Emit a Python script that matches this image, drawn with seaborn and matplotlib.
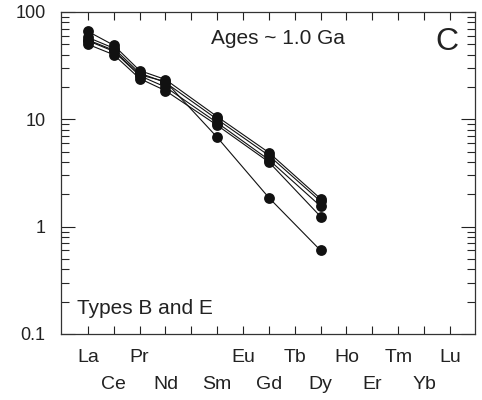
import numpy as np
import pandas as pd
import matplotlib
matplotlib.use("Agg")
import matplotlib.pyplot as plt
import seaborn as sns
from matplotlib.ticker import FixedLocator, LogLocator, NullFormatter, FixedFormatter

# REE order (Pm slot kept empty)
elements = ["La", "Ce", "Pr", "Nd", "", "Sm", "Eu", "Gd", "Tb", "Dy", "Ho", "Er", "Tm", "Yb", "Lu"]
measured = ["La", "Ce", "Pr", "Nd", "Sm", "Gd", "Dy"]

s1 = [66, 49, 28.5, 23.5, 10.6, 4.9, 1.82]
s2 = [58, 46, 27, 22.0, 10.0, 4.6, 1.72]
s3 = [54, 43, 25.5, 20.0, 9.3, 4.2, 1.55]
s4 = [50, 40, 24, 18.5, 8.8, 4.0, 1.24]
s5 = [55, 44, 26, 22.5, 6.8, 1.86, 0.60]
series = {"s1": s1, "s2": s2, "s3": s3, "s4": s4, "s5": s5}

rows = []
for name, vals in series.items():
    for el, v in zip(measured, vals):
        rows.append({"sample": name, "pos": elements.index(el), "value": v})
df = pd.DataFrame(rows)

sns.set_style("ticks")
plt.rcParams["font.family"] = ["Liberation Sans", "DejaVu Sans"]

fig = plt.figure(figsize=(4.82, 4.0), dpi=100)
ax = fig.add_axes([61/482, 66/400, 414/482, 322/400])

sns.lineplot(data=df, x="pos", y="value", hue="sample", units=None,
             palette=["#111111"] * 5, marker="o", markersize=7.8,
             markeredgewidth=0, linewidth=0.8, legend=False, ax=ax,
             estimator=None, sort=True)

ax.set_yscale("log")
ax.set_ylim(0.1, 100)
ax.set_xlim(-1.04, 14.97)
ax.set_xlabel("")
ax.set_ylabel("")

# y ticks
ax.yaxis.set_major_locator(FixedLocator([0.1, 1, 10, 100]))
ax.yaxis.set_major_formatter(FixedFormatter(["0.1", "1", "10", "100"]))
ax.yaxis.set_minor_locator(LogLocator(base=10, subs=np.arange(2, 10)))
ax.yaxis.set_minor_formatter(NullFormatter())

# x ticks: top row (even) as major, bottom row (odd) as minor
even = list(range(0, 15, 2))
odd = list(range(1, 15, 2))
ax.xaxis.set_major_locator(FixedLocator(even))
ax.xaxis.set_major_formatter(FixedFormatter([elements[i] for i in even]))
ax.xaxis.set_minor_locator(FixedLocator(odd))
ax.xaxis.set_minor_formatter(FixedFormatter([elements[i] for i in odd]))

ax.tick_params(axis="x", which="both", direction="in", length=6, width=0.8,
               top=True, bottom=True, labelsize=14, colors="#222222")
ax.tick_params(axis="x", which="major", pad=10.5)
ax.tick_params(axis="x", which="minor", pad=30.5)
ax.tick_params(axis="y", which="major", direction="in", length=10, width=0.8,
               left=True, right=True, labelsize=13, pad=11, colors="#222222")
ax.tick_params(axis="y", which="minor", direction="in", length=6, width=0.8,
               left=True, right=True)

for sp in ax.spines.values():
    sp.set_visible(True)
    sp.set_linewidth(0.9)
    sp.set_color("#333333")

ax.text(278/482, 1 - 39/400, "Ages ~ 1.0 Ga", transform=fig.transFigure,
        ha="center", va="center", fontsize=15, color="#222222")
ax.text(447/482, 1 - 42/400, "C", transform=fig.transFigure,
        ha="center", va="center", fontsize=23, color="#222222")
ax.text(77/482, 1 - 308/400, "Types B and E", transform=fig.transFigure,
        ha="left", va="center", fontsize=15, color="#222222")

fig.savefig("out.png", dpi=100)
